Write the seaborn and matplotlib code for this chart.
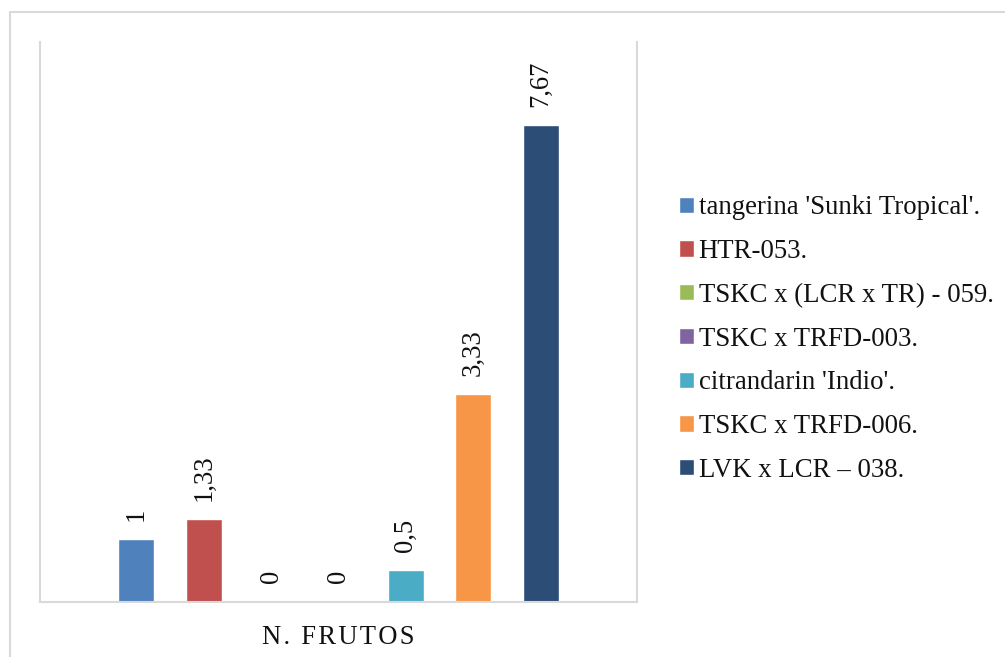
import matplotlib
matplotlib.use("Agg")
import matplotlib.pyplot as plt
from matplotlib.lines import Line2D
import seaborn as sns
import pandas as pd

sns.set_style("white")
plt.rcParams['font.family'] = ['Liberation Serif', 'DejaVu Serif']

category = ["N. FRUTOS"]
varieties = ["tangerina 'Sunki Tropical'.", "HTR-053.", "TSKC x (LCR x TR) - 059.",
             "TSKC x TRFD-003.", "citrandarin 'Indio'.", "TSKC x TRFD-006.",
             "LVK x LCR \u2013 038."]
values = [1, 1.33, 0, 0, 0.5, 3.33, 7.67]
colors = ["#4F81BD", "#C0504D", "#9BBB59", "#8064A2", "#4BACC6", "#F79646", "#2C4D75"]

df = pd.DataFrame({"cat": category * len(varieties), "var": varieties, "val": values})

W, H = 1005, 657
fig = plt.figure(figsize=(W / 100, H / 100), dpi=100)
ax = fig.add_axes([40 / W, 1 - 601.5 / H, 597 / W, 559.5 / H])

sns.barplot(data=df, x="cat", y="val", hue="var", hue_order=varieties,
            palette=colors, width=0.79, gap=0.465, ax=ax, legend=True,
            saturation=1, errorbar=None)

ax.set_ylim(0, 9)
ax.set_xlim(-0.5, 0.5)
ax.set_yticks([])
ax.set_xlabel("")
ax.set_ylabel("")
ax.set_xticks([0])
hs = "\u200a"
ax.set_xticklabels([hs.join("N. FRUTOS")], fontsize=19.2, color="#111111")
ax.tick_params(axis="x", length=0, pad=17)

for s in ["left", "right", "bottom"]:
    ax.spines[s].set_color("#D9D9D9")
    ax.spines[s].set_linewidth(1.5)
ax.spines["top"].set_visible(False)

def fmt(v):
    s = f"{v:.2f}".rstrip("0").rstrip(".")
    return s.replace(".", ",")

for cont in ax.containers:
    ax.bar_label(cont, labels=[fmt(b.get_height()) for b in cont], rotation=90,
                 padding=13, fontsize=19.2, color="#111111")

handles, labels = ax.get_legend_handles_labels()
ax.legend(handles, labels, loc="center left", bbox_to_anchor=(679 / W, 1 - 339 / H),
          bbox_transform=fig.transFigure, frameon=False, fontsize=19.3,
          handlelength=0.55, handleheight=0.55, handletextpad=0.18,
          labelspacing=0.7, labelcolor="#111111", borderpad=0, borderaxespad=0)

fig.add_artist(Line2D([10 / W, 10 / W, 1.0], [0.0, 1 - 12 / H, 1 - 12 / H],
                      transform=fig.transFigure, color="#D9D9D9", linewidth=1.5))

fig.savefig("out.png", dpi=100, facecolor="white")
